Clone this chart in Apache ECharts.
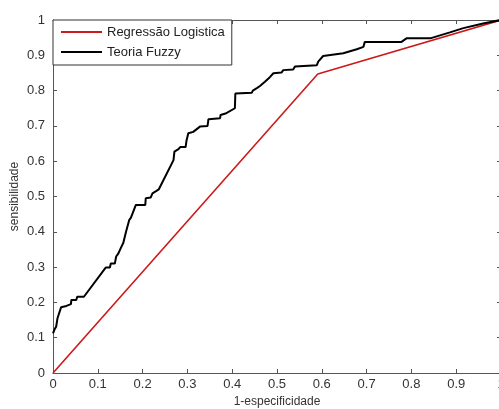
<!DOCTYPE html>
<html><head><meta charset="utf-8">
<script src="https://cdn.jsdelivr.net/npm/echarts@6/dist/echarts.min.js"></script>
<style>html,body{margin:0;padding:0;background:#fff}#c{width:499px;height:409px}</style>
</head><body><div id="c"></div>
<script>
const seriesNames = ['Regressão Logistica', 'Teoria Fuzzy'];
const xTicks = ['0','0.1','0.2','0.3','0.4','0.5','0.6','0.7','0.8','0.9','1'];
const yTicks = ['0','0.1','0.2','0.3','0.4','0.5','0.6','0.7','0.8','0.9','1'];
const logX = [0, 0.591, 1.0];
const logY = [0, 0.847, 1.0];
const fuzzyX = [0, 0.004, 0.007, 0.010, 0.012, 0.018, 0.030, 0.040, 0.041, 0.052, 0.054, 0.069, 0.118, 0.127, 0.129, 0.138, 0.141, 0.146, 0.151, 0.157, 0.160, 0.163, 0.167, 0.170, 0.174, 0.185, 0.206, 0.207, 0.218, 0.222, 0.231, 0.236, 0.269, 0.271, 0.280, 0.284, 0.296, 0.298, 0.302, 0.313, 0.328, 0.345, 0.347, 0.373, 0.374, 0.385, 0.406, 0.407, 0.444, 0.446, 0.455, 0.462, 0.473, 0.484, 0.492, 0.510, 0.514, 0.536, 0.540, 0.589, 0.592, 0.603, 0.648, 0.678, 0.693, 0.696, 0.778, 0.789, 0.842, 0.886, 0.916, 0.960, 1.0];
const fuzzyY = [0.112, 0.125, 0.131, 0.155, 0.160, 0.186, 0.190, 0.195, 0.207, 0.207, 0.216, 0.216, 0.299, 0.299, 0.310, 0.310, 0.330, 0.339, 0.353, 0.369, 0.372, 0.400, 0.403, 0.433, 0.440, 0.476, 0.476, 0.495, 0.497, 0.509, 0.516, 0.520, 0.603, 0.627, 0.634, 0.640, 0.640, 0.658, 0.679, 0.683, 0.698, 0.700, 0.719, 0.722, 0.731, 0.735, 0.750, 0.792, 0.794, 0.800, 0.807, 0.813, 0.825, 0.838, 0.849, 0.851, 0.858, 0.860, 0.868, 0.872, 0.882, 0.898, 0.906, 0.917, 0.924, 0.938, 0.938, 0.948, 0.948, 0.965, 0.977, 0.990, 1.0];

const FONT = '"Liberation Sans", Arial, sans-serif';
const axisCol = '#555';
const labCol = '#333';
const chart = echarts.init(document.getElementById('c'), null, {renderer: 'canvas'});
const fmt = v => {
  const i = Math.round(v * 10);
  return i >= 0 && i < xTicks.length ? xTicks[i] : '';
};
const fmtY = v => {
  const i = Math.round(v * 10);
  return i >= 0 && i < yTicks.length ? yTicks[i] : '';
};
const baseAxis = {
  min: 0, max: 1, interval: 0.1,
  axisLine: {show: true, onZero: false, lineStyle: {color: axisCol, width: 1}},
  axisTick: {show: true, inside: true, length: 4, lineStyle: {color: axisCol}},
  splitLine: {show: false}
};
chart.setOption({
  animation: false,
  backgroundColor: '#fff',
  textStyle: {fontFamily: FONT},
  grid: {left: 53, top: 20, width: 448, height: 353, containLabel: false, outerBoundsMode: 'none'},
  legend: {
    orient: 'vertical', left: 53, top: 20,
    padding: [2, 7, 3, 8], itemGap: 0,
    itemWidth: 41, itemHeight: 2, icon: 'rect',
    borderColor: '#333', borderWidth: 1, backgroundColor: '#fff',
    textStyle: {fontFamily: FONT, fontSize: 13, color: '#222', lineHeight: 20},
    data: seriesNames
  },
  xAxis: [
    Object.assign({}, baseAxis, {type: 'value', position: 'bottom',
      name: '1-especificidade', nameLocation: 'middle', nameGap: 23,
      nameTextStyle: {fontFamily: FONT, fontSize: 12, color: labCol},
      axisLabel: {show: true, margin: 5, color: labCol, fontSize: 13, fontFamily: FONT, formatter: fmt}}),
    Object.assign({}, baseAxis, {type: 'value', position: 'top', axisLabel: {show: false}})
  ],
  yAxis: [
    Object.assign({}, baseAxis, {type: 'value', position: 'left',
      name: 'sensibilidade', nameLocation: 'middle', nameGap: 32, nameRotate: 90,
      nameMoveOverlap: false,
      nameTextStyle: {fontFamily: FONT, fontSize: 12, color: labCol},
      axisLabel: {show: true, margin: 8, color: labCol, fontSize: 13, fontFamily: FONT, formatter: fmtY}}),
    Object.assign({}, baseAxis, {type: 'value', position: 'right', axisLabel: {show: false}})
  ],
  series: [
    {name: seriesNames[0], type: 'line', color: '#cc1a1a', showSymbol: false, symbol: 'none',
     lineStyle: {width: 1.6, color: '#cc1a1a'},
     data: logX.map((x, i) => [x, logY[i]])},
    {name: seriesNames[1], type: 'line', color: '#000', showSymbol: false, symbol: 'none',
     lineStyle: {width: 2, color: '#000'},
     data: fuzzyX.map((x, i) => [x, fuzzyY[i]])}
  ]
});
</script></body></html>
